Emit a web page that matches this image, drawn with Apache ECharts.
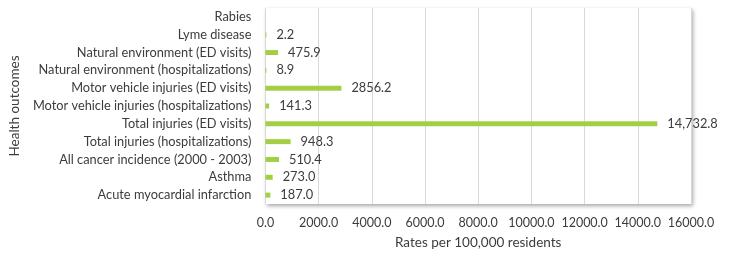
<!DOCTYPE html>
<html>
<head>
<meta charset="utf-8">
<script src="https://cdn.jsdelivr.net/npm/echarts@6/dist/echarts.min.js"></script>
<style>
  html, body { margin: 0; padding: 0; background: #fff; }
  #chart { width: 732px; height: 255px; }
</style>
</head>
<body>
<div id="chart"></div>
<script>
  // top to bottom, as in the picture
  var outcomes = [
    'Rabies',
    'Lyme disease',
    'Natural environment (ED visits)',
    'Natural environment (hospitalizations)',
    'Motor vehicle injuries (ED visits)',
    'Motor vehicle injuries (hospitalizations)',
    'Total injuries (ED visits)',
    'Total injuries (hospitalizations)',
    'All cancer incidence (2000 - 2003)',
    'Asthma',
    'Acute myocardial infarction'
  ]
  var rates = [null, 2.2, 475.9, 8.9, 2856.2, 141.3, 14732.8, 948.3, 510.4, 273.0, 187.0]
  var rateLabels = ['', '2.2', '475.9', '8.9', '2856.2', '141.3', '14,732.8', '948.3', '510.4', '273.0', '187.0']

  var font = 'Lato, "Open Sans", sans-serif'
  var txt = '#3c3c3c'

  var chart = echarts.init(document.getElementById('chart'))
  chart.setOption({
    animation: false,
    textStyle: { fontFamily: font },
    grid: {
      show: true,
      left: 264,
      right: 41,
      top: 8,
      bottom: 51,
      borderWidth: 0,
      backgroundColor: '#fff',
      shadowColor: 'rgba(0,0,0,0.35)',
      shadowBlur: 4,
      shadowOffsetX: 2,
      shadowOffsetY: 2
    },
    xAxis: {
      type: 'value',
      min: 0,
      max: 16000,
      interval: 2000,
      name: 'Rates per 100,000 residents',
      nameLocation: 'middle',
      nameGap: 32,
      nameTextStyle: { fontSize: 13.5, color: txt, fontFamily: font },
      axisLine: { show: false },
      axisTick: { show: false },
      axisLabel: {
        color: txt,
        fontSize: 12.5,
        margin: 12,
        formatter: function (v) { return v.toFixed(1) }
      },
      splitLine: { lineStyle: { color: '#d9d9d9' } }
    },
    yAxis: {
      type: 'category',
      data: outcomes,
      inverse: true,
      name: 'Health outcomes',
      nameLocation: 'middle',
      nameGap: 233,
      nameRotate: 90,
      nameTextStyle: { fontSize: 13.5, color: txt, fontFamily: font },
      axisLine: { show: true, lineStyle: { color: '#d9d9d9' } },
      axisTick: { show: false },
      axisLabel: { color: txt, fontSize: 12.8, margin: 14 }
    },
    series: [
      {
        type: 'bar',
        data: rates,
        barWidth: 5,
        barMinHeight: 1,
        itemStyle: { color: '#a4cf45' },
        label: {
          show: true,
          position: 'right',
          distance: 10,
          color: txt,
          fontSize: 12.8,
          formatter: function (p) { return rateLabels[p.dataIndex] }
        }
      }
    ]
  })
</script>
</body>
</html>
